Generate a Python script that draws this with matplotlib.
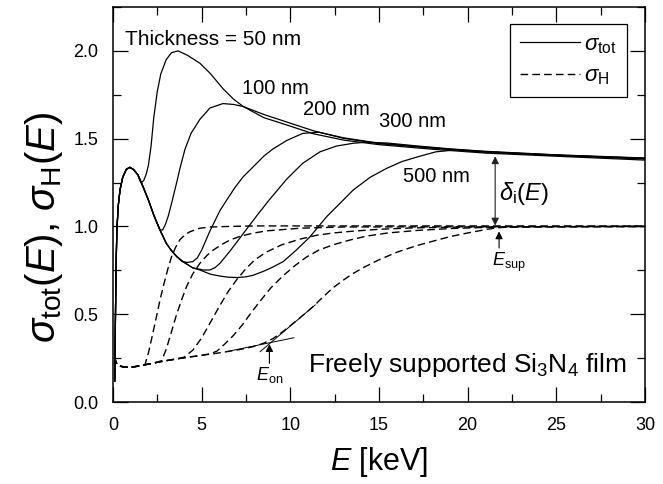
import matplotlib
matplotlib.use('Agg')
import matplotlib.pyplot as plt
from matplotlib.lines import Line2D
from matplotlib.ticker import MultipleLocator, FormatStrFormatter

plt.rcParams['font.family'] = ['Liberation Sans', 'DejaVu Sans']
plt.rcParams['mathtext.fontset'] = 'custom'
plt.rcParams['mathtext.rm'] = 'Liberation Sans'
plt.rcParams['mathtext.it'] = 'Liberation Sans:italic'
plt.rcParams['mathtext.bf'] = 'Liberation Sans:bold'
plt.rcParams['mathtext.sf'] = 'Liberation Sans'

# ---------------- data ----------------
thickness_labels = ["50 nm", "100 nm", "200 nm", "300 nm", "500 nm"]

# common part of sigma_tot (bulk-like curve)
common_E = [0.10, 0.13, 0.17, 0.22, 0.30, 0.40, 0.55, 0.75, 0.95, 1.15, 1.40,
            1.70, 2.00, 2.30, 2.65, 3.00, 3.30, 3.60, 4.00, 4.50, 4.90, 5.50,
            6.00, 6.50, 7.00, 7.50, 7.90]
common_S = [0.12, 0.40, 0.75, 0.98, 1.12, 1.21, 1.28, 1.325, 1.337, 1.325, 1.295,
            1.225, 1.15, 1.065, 0.98, 0.905, 0.862, 0.828, 0.796, 0.764, 0.752, 0.728,
            0.718, 0.711, 0.709, 0.713, 0.722]

# branches of sigma_tot for each thickness
E50 = [1.52, 1.62, 1.75, 1.88, 2.00, 2.15, 2.30, 2.50, 2.70, 3.00, 3.30, 3.67, 4.20,
       4.90, 5.50, 6.20, 6.80, 7.35, 8.50, 9.80, 11.3, 13.0, 15.0, 18.0, 21.0, 25.0, 30.0]
S50 = [1.26, 1.25, 1.265, 1.30, 1.35, 1.46, 1.62, 1.77, 1.87, 1.95, 1.99, 2.00, 1.975,
       1.93, 1.87, 1.785, 1.725, 1.683, 1.62, 1.578, 1.528, 1.492, 1.466, 1.440, 1.418, 1.400, 1.378]

E100 = [2.80, 2.95, 3.12, 3.35, 3.59, 3.80, 4.06, 4.40, 4.90, 5.47, 6.20, 6.80, 7.35,
        8.50, 9.80, 11.3, 13.0, 15.0, 18.0, 21.0, 25.0, 30.0]
S100 = [0.98, 1.01, 1.06, 1.15, 1.25, 1.34, 1.44, 1.53, 1.61, 1.675, 1.70, 1.695, 1.683,
        1.638, 1.595, 1.545, 1.502, 1.472, 1.446, 1.424, 1.405, 1.384]

E200 = [3.90, 4.20, 4.50, 4.75, 5.00, 5.47, 6.03, 6.41, 6.90, 7.35, 7.91, 8.50, 9.00,
        9.80, 10.7, 11.6, 13.0, 15.0, 18.0, 21.0, 25.0, 30.0]
S200 = [0.80, 0.795, 0.80, 0.82, 0.865, 0.975, 1.09, 1.15, 1.225, 1.284, 1.34, 1.40, 1.44,
        1.49, 1.53, 1.537, 1.505, 1.474, 1.448, 1.426, 1.407, 1.388]

E300 = [4.81, 5.10, 5.47, 5.75, 6.03, 6.60, 7.35, 8.10, 8.80, 9.80, 10.7, 11.67, 12.6,
        13.55, 14.3, 15.5, 17.0, 19.0, 21.0, 25.0, 30.0]
S300 = [0.758, 0.752, 0.752, 0.765, 0.79, 0.86, 0.96, 1.06, 1.15, 1.27, 1.36, 1.425, 1.458,
        1.474, 1.48, 1.475, 1.460, 1.442, 1.428, 1.408, 1.390]

E500 = [8.50, 9.00, 9.60, 10.3, 11.1, 12.05, 12.99, 13.55, 14.5, 15.43, 16.3, 17.3, 18.2,
        19.2, 21.0, 25.0, 30.0]
S500 = [0.745, 0.768, 0.80, 0.862, 0.94, 1.056, 1.151, 1.208, 1.28, 1.331, 1.37, 1.40, 1.425,
        1.435, 1.425, 1.405, 1.388]

# common low part of sigma_H
low_E = [0.10, 0.15, 0.25, 0.45, 0.70, 1.00, 1.40, 1.80, 2.30, 2.80, 3.50, 4.30, 5.00,
         5.80, 6.50, 7.20, 7.90]
low_H = [0.26, 0.232, 0.212, 0.203, 0.199, 0.198, 0.204, 0.212, 0.222, 0.232, 0.244, 0.256,
         0.266, 0.277, 0.288, 0.300, 0.315]

# branches of sigma_H for each thickness
HE50 = [2.00, 2.20, 2.46, 2.65, 2.84, 3.10, 3.31, 3.55, 3.78, 4.05, 4.34, 4.90, 5.50, 6.50, 8.0, 30.0]
H50 = [0.28, 0.37, 0.49, 0.58, 0.66, 0.76, 0.83, 0.885, 0.925, 0.952, 0.97, 0.99, 0.997, 1.0, 1.003, 1.003]

HE100 = [2.74, 3.00, 3.21, 3.59, 3.90, 4.16, 4.50, 4.90, 5.30, 5.66, 6.10, 6.60, 7.20, 7.91,
         8.67, 10.55, 13.0, 30.0]
H100 = [0.235, 0.30, 0.37, 0.50, 0.59, 0.66, 0.73, 0.79, 0.835, 0.866, 0.895, 0.923, 0.945,
        0.962, 0.975, 0.99, 0.997, 1.0]

HE200 = [4.00, 4.50, 5.00, 5.50, 6.00, 6.50, 7.00, 7.50, 8.00, 8.67, 9.50, 10.55, 11.5,
         12.43, 13.4, 15.0, 17.0, 20.0, 30.0]
H200 = [0.255, 0.295, 0.365, 0.455, 0.545, 0.63, 0.70, 0.76, 0.81, 0.855, 0.895, 0.928, 0.95,
        0.963, 0.972, 0.984, 0.992, 0.997, 1.0]

HE300 = [5.50, 5.86, 6.30, 6.80, 7.30, 7.80, 8.30, 8.90, 9.60, 10.3, 10.9, 11.6, 12.4,
         13.37, 14.3, 15.5, 17.1, 19.0, 20.9, 23.0, 30.0]
H300 = [0.275, 0.29, 0.33, 0.38, 0.44, 0.51, 0.575, 0.65, 0.72, 0.78, 0.825, 0.865, 0.895,
        0.923, 0.945, 0.963, 0.977, 0.988, 0.994, 0.998, 1.0]

HE500 = [8.50, 9.00, 9.50, 10.0, 10.55, 11.3, 11.86, 12.4, 13.0, 13.5, 14.2, 15.0, 16.0,
         17.1, 18.0, 19.0, 20.0, 20.9, 21.6, 22.5, 30.0]
H500 = [0.335, 0.36, 0.395, 0.435, 0.48, 0.545, 0.60, 0.65, 0.695, 0.73, 0.77, 0.81, 0.853,
        0.89, 0.915, 0.942, 0.963, 0.98, 0.992, 0.998, 1.0]

# tangent lines defining E_on (500 nm)
tan_low_E = [6.4, 10.2]
tan_low_H = [0.287, 0.366]
tan_rise_E = [8.3, 11.4]
tan_rise_H = [0.287, 0.553]

E_delta = 21.55
E_sup = 21.77
E_on = 8.82

xticks = [0, 5, 10, 15, 20, 25, 30]
yticks = [0.0, 0.5, 1.0, 1.5, 2.0]

# ---------------- figure ----------------
fig = plt.figure(figsize=(6.63, 4.84), dpi=100)
ax = fig.add_axes([0.1704, 0.1694, 0.8025, 0.8161])


def join(base_E, base_V, br_E, br_V):
    e = [x for x in base_E if x < br_E[0]] + list(br_E)
    v = [y for x, y in zip(base_E, base_V) if x < br_E[0]] + list(br_V)
    return e, v


solid_branches = [(E50, S50), (E100, S100), (E200, S200), (E300, S300), (E500, S500)]
dash_branches = [(HE50, H50), (HE100, H100), (HE200, H200), (HE300, H300), (HE500, H500)]

for be, bv in solid_branches:
    e, v = join(common_E, common_S, be, bv)
    ax.plot(e, v, color='black', lw=0.9, solid_joinstyle='round')

for be, bv in dash_branches:
    e, v = join(low_E, low_H, be, bv)
    ax.plot(e, v, color='black', lw=1.0, dashes=(5.5, 3.0))

ax.plot(tan_low_E, tan_low_H, color='black', lw=0.7)
ax.plot(tan_rise_E, tan_rise_H, color='black', lw=0.7)

# arrows
ax.annotate('', xy=(E_delta, 1.005), xytext=(E_delta, 1.40),
            arrowprops=dict(arrowstyle='<|-|>', color='#222222', lw=0.8,
                            mutation_scale=11, shrinkA=0, shrinkB=0))
ax.annotate('', xy=(E_sup, 0.972), xytext=(E_sup, 0.877),
            arrowprops=dict(arrowstyle='-|>', color='black', lw=0.8,
                            mutation_scale=11, shrinkA=0, shrinkB=0))
ax.annotate('', xy=(E_on, 0.33), xytext=(E_on, 0.22),
            arrowprops=dict(arrowstyle='-|>', color='black', lw=0.8,
                            mutation_scale=11, shrinkA=0, shrinkB=0))

# texts
ax.text(0.68, 2.034, "Thickness = " + thickness_labels[0], fontsize=15, va='baseline')
ax.text(7.26, 1.753, thickness_labels[1], fontsize=14.5, va='baseline')
ax.text(10.73, 1.635, thickness_labels[2], fontsize=14.5, va='baseline')
ax.text(15.0, 1.567, thickness_labels[3], fontsize=14.5, va='baseline')
ax.text(16.34, 1.255, thickness_labels[4], fontsize=14.5, va='baseline')
ax.text(21.79, 1.151, r'$\delta_{\rm i}(E)$', fontsize=17, va='baseline')
ax.text(21.35, 0.775, r'$E_{\rm sup}$', fontsize=13, va='baseline')
ax.text(8.07, 0.125, r'$E_{\rm on}$', fontsize=13, va='baseline')
ax.text(11.0, 0.173, r'Freely supported Si$_3$N$_4$ film', fontsize=19, va='baseline')

# legend
handles = [Line2D([], [], color='black', lw=0.9),
           Line2D([], [], color='black', lw=1.0, dashes=(5.5, 3.0))]
leg = ax.legend(handles, [r'$\sigma_{\rm tot}$', r'$\sigma_{\rm H}$'], loc='upper right',
                bbox_to_anchor=(0.966, 0.957), borderaxespad=0, fontsize=16,
                handlelength=2.7, handletextpad=0.2, labelspacing=0.45,
                fancybox=False, framealpha=1, edgecolor='black', borderpad=0.45)
leg.get_frame().set_linewidth(0.9)

# axes
ax.set_xlim(0, 30)
ax.set_ylim(0, 2.25)
ax.set_xticks(xticks)
ax.set_yticks(yticks)
ax.xaxis.set_minor_locator(MultipleLocator(2.5))
ax.yaxis.set_minor_locator(MultipleLocator(0.25))
ax.yaxis.set_major_formatter(FormatStrFormatter('%.1f'))
ax.tick_params(which='both', direction='in', top=True, right=True, width=0.9,
               labelsize=13, pad=10.5, colors='black')
ax.tick_params(which='major', length=10.5)
ax.tick_params(which='minor', length=5.5)
for s in ax.spines.values():
    s.set_linewidth(1.1)

ax.set_xlabel(r'$E$ [keV]', fontsize=22)
ax.set_ylabel(r'$\sigma_{\rm tot}(E)$, $\sigma_{\rm H}(E)$', fontsize=29)
ax.xaxis.set_label_coords(0.5, -0.11)
ax.yaxis.set_label_coords(-0.09, 0.442)

fig.savefig('out.png', dpi=100)
